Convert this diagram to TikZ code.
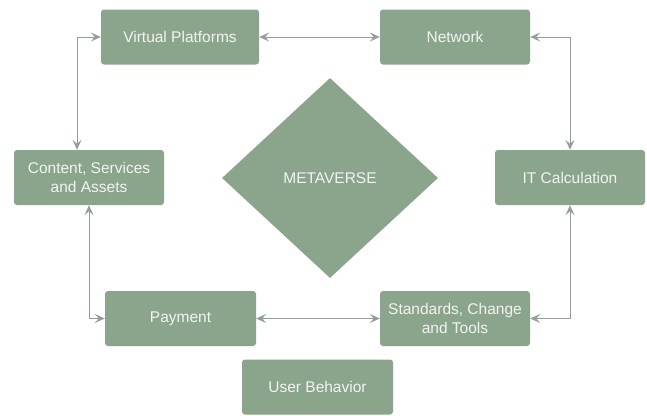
\documentclass[tikz,border=0pt]{standalone}
\usepackage{fontspec}
\setmainfont{Liberation Sans}
\usetikzlibrary{arrows.meta,shapes.geometric}
\definecolor{boxfill}{HTML}{8AA58C}
\definecolor{linecol}{HTML}{919E9C}
\definecolor{txtcol}{HTML}{F2F4F2}
\begin{document}
\begin{tikzpicture}[x=1pt,y=-1pt,
  box/.style={draw=none, fill=boxfill, rounded corners=3pt, minimum width=151pt, minimum height=55pt,
    text=txtcol, font=\fontsize{15.5}{18.5}\selectfont, align=center, inner sep=0pt},
  link/.style={draw=linecol, line width=1pt, {Stealth[length=10pt,width=9pt,inset=4pt]}-{Stealth[length=10pt,width=9pt,inset=4pt]}}]
\useasboundingbox (0,0) rectangle (647,415);
\node[box, minimum width=158pt] (vp) at (180,37) {Virtual Platforms};
\node[box, minimum width=150pt] (net) at (455,37) {Network};
\node[box, minimum width=150pt] (csa) at (89,177.5) {Content, Services\\and Assets};
\node[box, minimum width=150pt] (it) at (570,177.5) {IT Calculation};
\node[box, minimum width=151pt] (pay) at (180.5,318.5) {Payment};
\node[box, minimum width=150pt] (std) at (455,318.5) {Standards, Change\\and Tools};
\node[box, minimum width=151pt] (ub) at (317.5,387) {User Behavior};
\node[diamond, fill=boxfill, minimum width=216pt, minimum height=200pt, inner sep=0pt,
  text=txtcol, font=\fontsize{15.5}{18.5}\selectfont] (meta) at (330,178) {METAVERSE};
\draw[link] (vp.west) -| ([xshift=-12pt]csa.north);
\draw[link] (vp.east) -- (net.west);
\draw[link] (net.east) -| (it.north);
\draw[link] (it.south) |- (std.east);
\draw[link] (pay.east) -- (std.west);
\draw[link] (csa.south) |- (pay.west);
\end{tikzpicture}
\end{document}
